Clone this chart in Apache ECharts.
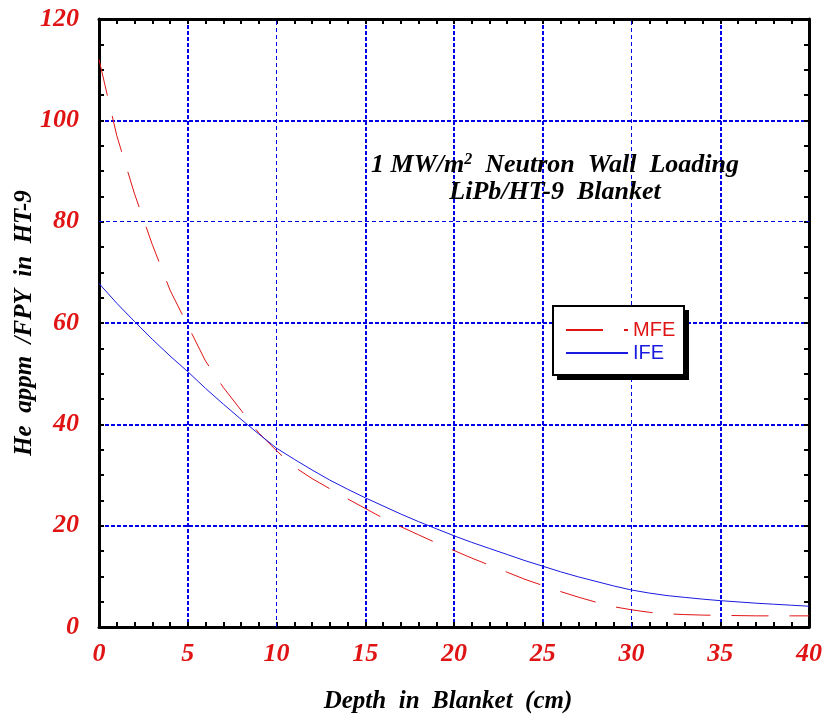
<!DOCTYPE html>
<html><head><meta charset="utf-8">
<script src="https://cdn.jsdelivr.net/npm/echarts@6/dist/echarts.min.js"></script>
<style>html,body{margin:0;padding:0;background:#fff}#c{width:822px;height:715px}</style>
</head><body><div id="c"></div>
<script>
// Depth in blanket (cm)
var depth = [0,1,2,3,4,5,6,7,8,9,10,11,12,13,14,15,16,17,18,19,20,21,22,23,24,25,26,27,28,29,30,31,32,33,34,35,36,37,38,39,40];
// He appm / FPY in HT-9
var mfe = [112,97,85.5,75.5,66.5,59.5,52.5,47.3,42.8,38.3,34.8,31.6,29.3,27.3,25.3,23.4,21.5,19.8,18.2,16.6,15.1,13.6,12.2,10.8,9.4,8.2,7.0,5.9,4.9,4.0,3.4,2.9,2.6,2.45,2.35,2.3,2.25,2.2,2.2,2.2,2.2];
var ife = [67.8,63.9,60.3,56.8,53.5,50.4,47.1,44.0,41.0,38.1,35.3,33.1,31.0,29.0,27.2,25.5,23.9,22.3,20.8,19.4,18.0,16.7,15.5,14.3,13.1,12.0,10.9,9.9,9.0,8.1,7.3,6.7,6.2,5.85,5.5,5.2,4.95,4.7,4.5,4.3,4.1];
var seriesNames = ['MFE','IFE'];
var xTicks = {min:0, max:40, interval:5};
var yTicks = {min:0, max:120, interval:20};
// grid lines drawn thinner in the original
var thinXGrid = [10, 30];
var thinYGrid = [80];

var RED = '#e01414', BLUE = '#1a1ae0', GRID = '#0000e6', T = 'rgba(0,0,0,0)';
var serif = 'Liberation Serif';
var labelStyle = {color: RED, fontFamily: serif, fontWeight: 'bold', fontStyle: 'italic', fontSize: 26};
var nameStyle = {color: '#000', fontFamily: serif, fontWeight: 'bold', fontStyle: 'italic', fontSize: 25};

function pairs(ys){ return depth.map(function(x,i){ return [x, ys[i]]; }); }
function isThin(v, list){ return list.indexOf(v) >= 0; }
function thickColors(t, list){
  var c = [];
  for (var v = t.min; v <= t.max + 1e-9; v += t.interval) {
    c.push((v === t.min || v === t.max || isThin(v, list)) ? T : GRID);
  }
  return c;
}

function xAx(pos, labels){
  return {
    type:'value', position:pos, min:xTicks.min, max:xTicks.max, interval:xTicks.interval,
    name: labels ? 'Depth  in  Blanket  (cm)' : '', nameLocation:'middle', nameGap:62, nameMoveOverlap:false,
    nameTextStyle:Object.assign({padding:[0,12,0,0]}, nameStyle),
    axisLine:{show:true, onZero:false, lineStyle:{color:'#000', width:3}},
    axisTick:{show:true, inside:true, length:5, lineStyle:{color:'#000', width:2}},
    minorTick:{show:true, splitNumber:5, length:5, lineStyle:{color:'#000', width:2}},
    axisLabel:Object.assign({show:labels, margin:14}, labelStyle),
    splitLine:{show:labels, lineStyle:{color:thickColors(xTicks, thinXGrid), width:2, type:[4,2]}},
    minorSplitLine:{show:false}
  };
}
function yAx(pos, labels){
  return {
    type:'value', position:pos, min:yTicks.min, max:yTicks.max, interval:yTicks.interval,
    name: labels ? 'He  appm  /FPY  in  HT-9' : '', nameLocation:'middle', nameGap:62, nameRotate:90, nameMoveOverlap:false,
    nameTextStyle:nameStyle,
    axisLine:{show:true, onZero:false, lineStyle:{color:'#000', width:3}},
    axisTick:{show:true, inside:true, length:5, lineStyle:{color:'#000', width:2}},
    minorTick:{show:true, splitNumber:4, length:5, lineStyle:{color:'#000', width:2}},
    axisLabel:Object.assign({show:labels, margin:20}, labelStyle),
    splitLine:{show:labels, lineStyle:{color:thickColors(yTicks, thinYGrid), width:2, type:[4,2]}},
    minorSplitLine:{show:false}
  };
}

var thinLines = thinXGrid.map(function(v){ return {xAxis:v}; }).concat(thinYGrid.map(function(v){ return {yAxis:v}; }));

var chart = echarts.init(document.getElementById('c'), null, {renderer:'canvas'});
chart.setOption({
  animation:false,
  backgroundColor:'#fff',
  grid:{left:99, top:19, right:13, bottom:88, containLabel:false, outerBoundsMode:'none'},
  title:{
    left:550, top:147, textAlign:'center',
    text:'{a|1 MW/m}{s|2}{a|  Neutron  Wall  Loading}\n{a|LiPb/HT-9  Blanket}',
    textStyle:{rich:{
      a:{fontFamily:serif, fontWeight:'bold', fontStyle:'italic', fontSize:26, color:'#000', lineHeight:27},
      s:{fontFamily:serif, fontWeight:'bold', fontStyle:'italic', fontSize:16, color:'#000', verticalAlign:'top', lineHeight:27}
    }}
  },
  graphic:[
    {type:'rect', left:557, top:310, z:90, shape:{width:132, height:70}, style:{fill:'#000'}},
    {type:'rect', left:552, top:305, z:91, shape:{width:131, height:69}, style:{fill:'#fff', stroke:'#000', lineWidth:2}}
  ],
  legend:{
    orient:'vertical', left:552, top:305, z:100,
    padding:[15,10,12,13], itemGap:3, itemWidth:62, itemHeight:20,
    textStyle:{fontFamily:'Liberation Sans', fontSize:20},
    itemStyle:{opacity:0},
    data:[{name:seriesNames[0], textStyle:{color:RED}}, {name:seriesNames[1], textStyle:{color:BLUE}}]
  },
  xAxis:[ xAx('bottom', true), xAx('top', false) ],
  yAxis:[ yAx('left', true), yAx('right', false) ],
  series:[
    {name:seriesNames[0], type:'line', xAxisIndex:0, yAxisIndex:0, data:pairs(mfe), showSymbol:false, symbol:'none',
     lineStyle:{color:RED, width:1, type:[37,21]}, itemStyle:{color:RED}, z:5},
    {name:seriesNames[1], type:'line', xAxisIndex:0, yAxisIndex:0, data:pairs(ife), showSymbol:false, symbol:'none',
     lineStyle:{color:BLUE, width:1}, itemStyle:{color:BLUE}, z:5,
     markLine:{silent:true, symbol:['none','none'], label:{show:false}, z:1,
       lineStyle:{color:GRID, width:1, type:[4,3], opacity:1}, emphasis:{disabled:true},
       data:thinLines}}
  ]
});
</script></body></html>
